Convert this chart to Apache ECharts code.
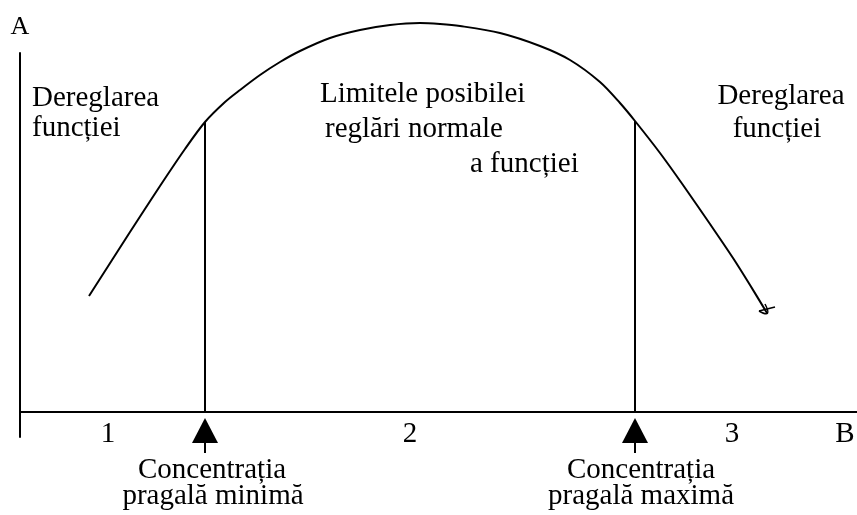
<!DOCTYPE html>
<html>
<head>
<meta charset="utf-8">
<title>Reglarea functiei</title>
<script src="https://cdn.jsdelivr.net/npm/echarts@6/dist/echarts.min.js"></script>
<style>
    html, body { margin: 0; padding: 0; background: #fff; }
    #main { width: 857px; height: 515px; }
</style>
</head>
<body>
<div id="main"></div>
<script>
    // curba efectului (A) in functie de concentratie (B), unitati arbitrare
    var curveX = [6.9, 11.0, 14.0, 16.5, 18.5, 20.5, 22.0, 24.0, 26.0, 28.0, 31.0, 34.0, 37.0, 40.0, 42.0, 44.0, 48.0, 52.0, 55.0, 58.0, 60.0, 61.5, 64.0, 66.3, 69.0, 71.3, 73.0, 74.7];
    var curveY = [11.6, 18.0, 22.6, 26.3, 29.0, 31.0, 32.2, 33.7, 35.0, 36.1, 37.4, 38.2, 38.7, 38.9, 38.8, 38.6, 37.9, 36.6, 35.2, 33.0, 30.9, 29.1, 25.9, 22.7, 18.8, 15.4, 12.7, 9.9];

    // concentratia prag minima / maxima
    var thresholdX = [18.5, 61.5];
    var thresholdY = [29.0, 29.1];
    var thresholdNames = ['Concentrația\npragală minimă', 'Concentrația\npragală maximă'];

    var regionNames = ['1', '2', '3'];

    var FONT = "29px 'Liberation Serif', 'Times New Roman', serif";

    var curveData = [];
    for (var i = 0; i < curveX.length; i++) {
        curveData.push([curveX[i], curveY[i]]);
    }
    var thresholdData = [];
    for (var j = 0; j < thresholdX.length; j++) {
        thresholdData.push([thresholdX[j], thresholdY[j]]);
    }

    function txt(text, x, y, align) {
        return {
            type: 'text',
            silent: true,
            style: {
                text: text,
                x: x,
                y: y,
                font: FONT,
                fill: '#000',
                align: align || 'left',
                verticalAlign: 'middle'
            }
        };
    }

    var myChart = echarts.init(document.getElementById('main'));
    myChart.setOption({
        animation: false,
        backgroundColor: '#fff',
        grid: {
            left: 20,
            right: 0,
            top: 53,
            bottom: 78
        },
        xAxis: {
            type: 'value',
            min: 0,
            max: 83.7,
            axisLine: {onZero: true, lineStyle: {color: '#000', width: 2}},
            axisTick: {show: false},
            axisLabel: {show: false},
            splitLine: {show: false}
        },
        yAxis: {
            type: 'value',
            min: -2.5,
            max: 35.9,
            name: 'A',
            nameLocation: 'end',
            nameGap: 26,
            nameTextStyle: {
                color: '#000',
                fontSize: 26,
                fontFamily: "'Liberation Serif', 'Times New Roman', serif",
                align: 'center',
                verticalAlign: 'middle'
            },
            axisLine: {show: true, lineStyle: {color: '#000', width: 2}},
            axisTick: {show: false},
            axisLabel: {show: false},
            splitLine: {show: false}
        },
        series: [
            {
                name: 'efect',
                type: 'line',
                data: curveData,
                smooth: 0.3,
                symbol: 'none',
                clip: false,
                lineStyle: {color: '#000', width: 2}
            },
            {
                name: 'prag',
                type: 'custom',
                data: thresholdData,
                clip: false,
                renderItem: function (params, api) {
                    var base = api.coord([api.value(0), 0]);
                    var top = api.coord([api.value(0), api.value(1)]);
                    var bx = base[0], by = base[1];
                    return {
                        type: 'group',
                        children: [
                            {type: 'line', shape: {x1: bx, y1: by, x2: top[0], y2: top[1]}, style: {stroke: '#000', lineWidth: 2}},
                            {type: 'polygon', shape: {points: [[bx, by + 6], [bx - 13, by + 31], [bx + 13, by + 31]]}, style: {fill: '#000'}},
                            {type: 'line', shape: {x1: bx, y1: by + 30, x2: bx, y2: by + 41}, style: {stroke: '#000', lineWidth: 2}}
                        ]
                    };
                }
            },
            {
                // mazgalitura de la capatul curbei
                name: 'capat',
                type: 'custom',
                data: [curveData[curveData.length - 1]],
                clip: false,
                renderItem: function (params, api) {
                    var p = api.coord([api.value(0), api.value(1)]);
                    return {
                        type: 'group',
                        children: [
                            {type: 'line', shape: {x1: p[0] - 8, y1: p[1] - 2, x2: p[0] + 8, y2: p[1] - 6}, style: {stroke: '#000', lineWidth: 1.5}},
                            {type: 'bezierCurve', shape: {x1: p[0] - 2, y1: p[1] - 9, cpx1: p[0] + 6, cpy1: p[1] + 6, x2: p[0] - 8, y2: p[1] - 2}, style: {stroke: '#000', lineWidth: 1.5, fill: null}}
                        ]
                    };
                }
            }
        ],
        graphic: [
            txt('Dereglarea', 32, 98),
            txt('funcției', 32, 128),
            txt('Limitele posibilei', 320, 94),
            txt('reglări normale', 325, 129),
            txt('a funcției', 470, 164),
            txt('Dereglarea', 781, 96, 'center'),
            txt('funcției', 777, 129, 'center'),
            txt(regionNames[0], 108, 434, 'center'),
            txt(regionNames[1], 410, 434, 'center'),
            txt(regionNames[2], 732, 434, 'center'),
            txt('B', 845, 434, 'center'),
            txt(thresholdNames[0].split('\n')[0], 212, 470, 'center'),
            txt(thresholdNames[0].split('\n')[1], 213, 496, 'center'),
            txt(thresholdNames[1].split('\n')[0], 641, 470, 'center'),
            txt(thresholdNames[1].split('\n')[1], 641, 496, 'center')
        ]
    });
</script>
</body>
</html>
